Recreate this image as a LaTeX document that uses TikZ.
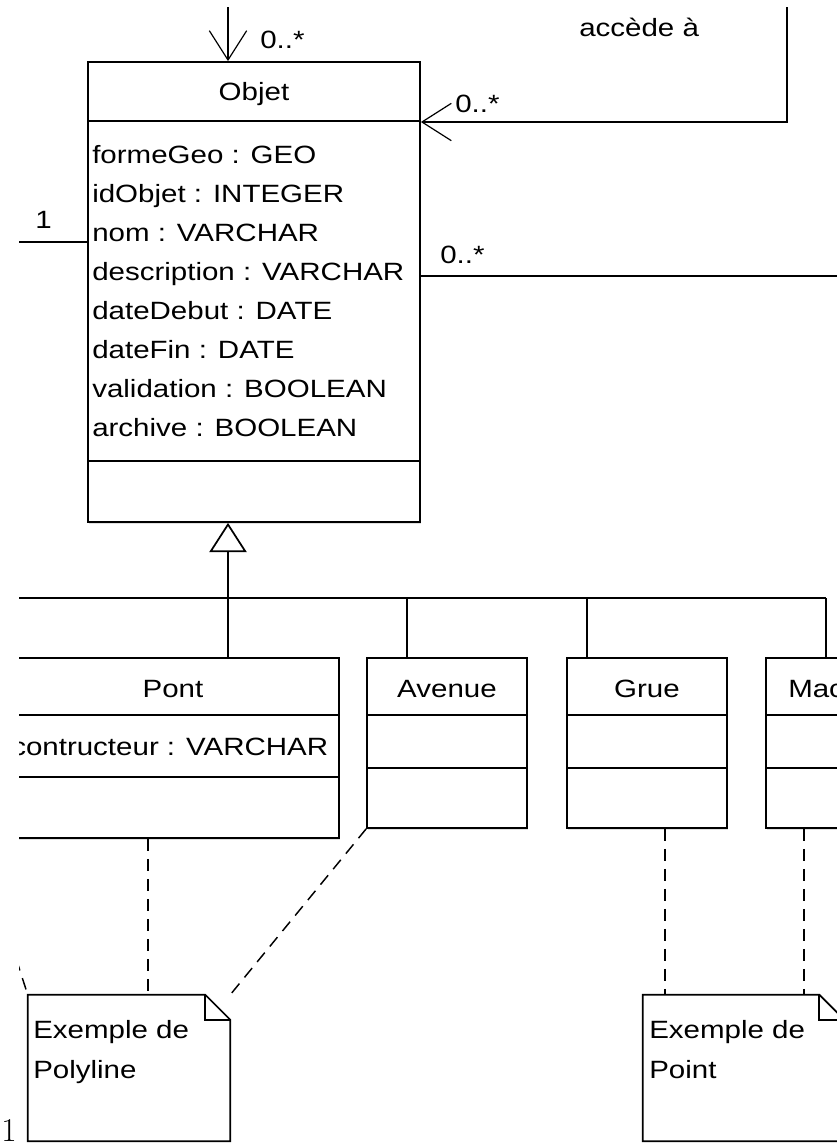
\documentclass[tikz,border=0pt]{standalone}
\usepackage{fontspec}
\usepackage{tikz}
\usetikzlibrary{arrows.meta,calc,fit,shadows}
\newfontfamily\umlfont[FakeStretch=1.18]{Liberation Sans}

\begin{document}
\begin{tikzpicture}[x=0.75pt, y=-0.75pt,
        every node/.style={font=\umlfont\fontsize{18.75}{23}\selectfont},
        classbox/.style={draw, line width=1.3pt, inner sep=0pt, fill=white,
            drop shadow={shadow xshift=1pt, shadow yshift=-1.2pt, opacity=0.25}},
        notebox/.style={inner sep=0pt},
        txt/.style={anchor=base west, inner sep=0pt},
        ctxt/.style={anchor=base, inner sep=0pt},
        line/.style={line width=1.3pt},
        assoc/.style={line width=1.3pt, -{Straight Barb[length=22pt, width=28pt, line width=0.9pt]}},
        gen/.style={line width=1.3pt, -{Triangle[open, length=22pt, width=28pt]}},
        dep/.style={line width=1.1pt, dash pattern=on 9pt off 6pt}]

    \useasboundingbox (0,0) rectangle (837,1143);

    \begin{scope}
        \clip (19,7) rectangle (837,1143);

        % Objet
        \node[classbox, fit={(88,62) (420,522)}] (objet) {};
        \draw[line] (objet.west |- 0,121) -- (objet.east |- 0,121);
        \draw[line] (objet.west |- 0,461) -- (objet.east |- 0,461);
        \node[ctxt] (tobjet) at (254,100) {Objet};
        \foreach \a [count=\i] in {formeGeo : GEO, idObjet : INTEGER, nom : VARCHAR,
                description : VARCHAR, dateDebut : DATE, dateFin : DATE,
                validation : BOOLEAN, archive : BOOLEAN}
            \node[txt] (attr\i) at (92,124+39*\i) {\a};

        % Sous-classes
        \node[classbox, fit={(7,658) (339,838)}] (pont) {};
        \draw[line] (pont.west |- 0,715) -- (pont.east |- 0,715);
        \draw[line] (pont.west |- 0,777) -- (pont.east |- 0,777);
        \node[ctxt] (tpont) at (173,697) {Pont};
        \node[txt] (apont) at (11,755) {contructeur : VARCHAR};

        \node[classbox, fit={(367,658) (527,828)}] (avenue) {};
        \draw[line] (avenue.west |- 0,715) -- (avenue.east |- 0,715);
        \draw[line] (avenue.west |- 0,768) -- (avenue.east |- 0,768);
        \node[ctxt] (tavenue) at (447,697) {Avenue};

        \node[classbox, fit={(567,658) (727,828)}] (grue) {};
        \draw[line] (grue.west |- 0,715) -- (grue.east |- 0,715);
        \draw[line] (grue.west |- 0,768) -- (grue.east |- 0,768);
        \node[ctxt] (tgrue) at (647,697) {Grue};

        \node[classbox, fit={(766,658) (926,828)}] (mac) {};
        \draw[line] (mac.west |- 0,715) -- (mac.east |- 0,715);
        \draw[line] (mac.west |- 0,768) -- (mac.east |- 0,768);
        \node[txt] (tmac) at (788,697) {Mac};

        % Associations
        \coordinate (topin) at (228,7);
        \draw[assoc] (topin) -- (topin |- objet.north);
        \node[txt] (mtop) at (260,48) {0..*};

        \coordinate (rightin) at (787,7);
        \draw[assoc] (rightin) |- (objet.east |- 0,122);
        \node[txt] (mright) at (455,112) {0..*};
        \node[txt] (acces) at (579,36) {accède à};

        \coordinate (leftin) at (0,242);
        \draw[line] (leftin) -- (leftin -| objet.west);
        \node[txt] (one) at (35,228) {1};

        \coordinate (rightout) at (850,276);
        \draw[line] (rightout -| objet.east) -- (rightout);
        \node[txt] (mlow) at (440,263) {0..*};

        % Generalisation
        \coordinate (busL) at (0,598);
        \coordinate (busR) at (826,598);
        \coordinate (genx) at (228,598);
        \coordinate (avx) at (407,598);
        \coordinate (grx) at (587,598);
        \draw[line] (busL) -- (busR);
        \draw[gen] (genx) -- (genx |- objet.south);
        \draw[line] (genx) -- (genx |- pont.north);
        \draw[line] (avx) -- (avx |- avenue.north);
        \draw[line] (grx) -- (grx |- grue.north);
        \draw[line] (busR) -- (busR |- mac.north);

        % Notes
        \node[notebox, fit={(28,995) (230,1141)}] (polyline) {};
        \node[notebox, fit={(643,995) (844,1141)}] (point) {};
        \foreach \n in {polyline, point} {
            \draw[line, fill=white] (\n.north west) -- ($(\n.north east)+(-25,0)$)
                -- ($(\n.north east)+(0,25)$) -- (\n.south east) -- (\n.south west) -- cycle;
            \draw[line] ($(\n.north east)+(-25,0)$) |- ($(\n.north east)+(0,25)$);
        }
        \node[txt] (npoly1) at (33,1038) {Exemple de};
        \node[txt] (npoly2) at (33,1078) {Polyline};
        \node[txt] (npoint1) at (649,1038) {Exemple de};
        \node[txt] (npoint2) at (649,1078) {Point};

        % Liens vers les notes
        \coordinate (offl) at (10,940);
        \draw[dep] (offl) -- (polyline.north west);
        \draw[dep] (pont.south -| 148,0) -- (polyline.north -| 148,0);
        \draw[dep] (avenue.south west) -- (polyline.north east);
        \draw[dep] (grue.south -| 665,0) -- (point.north -| 665,0);
        \draw[dep] (mac.south -| 804,0) -- (point.north -| 804,0);
    \end{scope}

    \node[txt, font=\rmfamily\fontsize{25}{30}\selectfont] (pagenum) at (1,1141) {1};
\end{tikzpicture}
\end{document}
